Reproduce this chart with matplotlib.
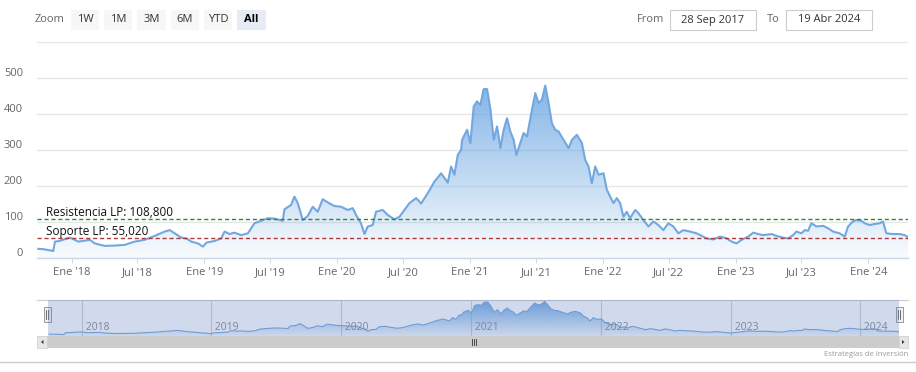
import numpy as np
import matplotlib
matplotlib.use("Agg")
import matplotlib.pyplot as plt
import matplotlib.dates as mdates
import matplotlib.transforms as mtrans
from matplotlib.patches import Rectangle, Polygon
from datetime import datetime, timedelta

plt.rcParams['font.family'] = ['Open Sans', 'DejaVu Sans']

# ---------------- data (decimal year, price) ----------------
years_dec = [
    2017.749, 2017.787, 2017.850, 2017.862, 2017.875, 2017.912, 2017.950, 2017.987,
    2018.013, 2018.050, 2018.088, 2018.138, 2018.175, 2018.251, 2018.326, 2018.401,
    2018.476, 2018.551, 2018.627, 2018.702, 2018.739, 2018.777, 2018.827, 2018.865,
    2018.902, 2018.952, 2018.990, 2019.015, 2019.078, 2019.128, 2019.153, 2019.190,
    2019.228, 2019.278, 2019.328, 2019.378, 2019.429, 2019.479, 2019.529, 2019.591,
    2019.604, 2019.654, 2019.679, 2019.704, 2019.742, 2019.779, 2019.817, 2019.855,
    2019.892, 2019.930, 2019.980, 2020.030, 2020.080, 2020.118, 2020.143, 2020.180,
    2020.206, 2020.231, 2020.268, 2020.293, 2020.343, 2020.381, 2020.431, 2020.469,
    2020.506, 2020.544, 2020.594, 2020.632, 2020.682, 2020.732, 2020.782, 2020.832,
    2020.857, 2020.882, 2020.907, 2020.932,
    2020.940, 2020.977, 2021.002, 2021.027, 2021.052, 2021.077, 2021.102, 2021.128,
    2021.153, 2021.178, 2021.203, 2021.228, 2021.253, 2021.278, 2021.303, 2021.328,
    2021.348, 2021.378, 2021.403, 2021.428, 2021.466, 2021.491, 2021.516, 2021.541,
    2021.566, 2021.591, 2021.616, 2021.641, 2021.666, 2021.704, 2021.742, 2021.767,
    2021.804, 2021.842, 2021.867, 2021.892, 2021.917, 2021.942, 2021.967, 2022.005,
    2022.030, 2022.055, 2022.080, 2022.105, 2022.130, 2022.155, 2022.180, 2022.205,
    2022.243, 2022.268, 2022.305, 2022.343, 2022.381, 2022.418, 2022.456, 2022.493,
    2022.531, 2022.569, 2022.606, 2022.656, 2022.706, 2022.744, 2022.782, 2022.832,
    2022.882, 2022.932, 2022.970, 2023.007, 2023.045, 2023.095, 2023.133, 2023.170,
    2023.208, 2023.271, 2023.308, 2023.358, 2023.396, 2023.433, 2023.458, 2023.496,
    2023.521, 2023.546, 2023.571, 2023.609, 2023.659, 2023.697, 2023.734, 2023.784,
    2023.822, 2023.847, 2023.884, 2023.909, 2023.947, 2023.972, 2024.010, 2024.047,
    2024.085, 2024.110, 2024.135, 2024.185, 2024.235, 2024.273, 2024.298,
]
prices = [
    25, 24, 20, 19, 45, 47, 52, 56,
    52, 45, 47, 50, 40, 33, 34, 36,
    45, 50, 61, 73, 77, 68, 56, 54,
    45, 40, 31, 42, 47, 54, 73, 66,
    70, 63, 68, 96, 103, 110, 109, 103,
    135, 147, 170, 152, 105, 116, 142, 128,
    163, 154, 144, 142, 133, 138, 119, 96,
    66, 87, 91, 128, 133, 119, 107, 114,
    133, 152, 166, 151, 180, 212, 235, 209,
    254, 231, 286, 300,
    328, 356, 319, 421, 435, 425, 469, 469,
    412, 328, 365, 305, 356, 388, 351, 328,
    286, 319, 347, 337, 412, 458, 430, 440,
    479, 430, 374, 356, 351, 328, 305, 328,
    342, 319, 272, 254, 207, 254, 231, 235,
    189, 170, 152, 166, 152, 114, 128, 110,
    133, 124, 105, 87, 101, 91, 77, 96,
    87, 68, 77, 73, 68, 61, 54, 51,
    59, 54, 45, 40, 50, 59, 70, 66,
    63, 66, 61, 56, 54, 63, 73, 68,
    77, 75, 96, 87, 89, 82, 73, 68,
    59, 87, 101, 105, 103, 96, 91, 94,
    96, 101, 68, 66, 66, 63, 57,
]
resistance = 108.8
support = 55.02
resistance_label = "Resistencia LP: 108,800"
support_label = "Soporte LP: 55,020"
y_ticks = [0, 100, 200, 300, 400, 500]
x_tick_dates = [datetime(y, m, 1) for y in range(2018, 2025) for m in (1, 7)
                if datetime(y, m, 1) < datetime(2024, 4, 1)]
month_names = {1: "Ene", 7: "Jul"}
nav_years = [2018, 2019, 2020, 2021, 2022, 2023, 2024]
zoom_buttons = ["1W", "1M", "3M", "6M", "YTD", "All"]
date_from = "28 Sep 2017"
date_to = "19 Abr 2024"
start_date = datetime(2017, 9, 28)
end_date = datetime(2024, 4, 19)
credits = "Estrategias de Inversión"


def dec_to_dt(d):
    y = int(np.floor(d))
    y0 = datetime(y, 1, 1)
    y1 = datetime(y + 1, 1, 1)
    return y0 + timedelta(seconds=(d - y) * (y1 - y0).total_seconds())


dates = [dec_to_dt(d) for d in years_dec]
xnum = mdates.date2num(dates)
yv = np.array(prices, dtype=float)

W, H = 916, 372
fig = plt.figure(figsize=(W / 100, H / 100), dpi=100)
fig.patch.set_facecolor("white")


def fr(x, y):
    return x / W, 1 - y / H


def rect_px(x0, y0, x1, y1, **kw):
    r = Rectangle((x0 / W, 1 - y1 / H), (x1 - x0) / W, (y1 - y0) / H,
                  transform=fig.transFigure, **kw)
    fig.add_artist(r)
    return r


LINE_C = "#72a7e0"
FILL_RGB = (0.40, 0.64, 0.89)


def gradient_fill(ax, x, y, ymin, ymax, top_alpha, bot_alpha, rgb):
    xs = np.concatenate([[x[0]], x, [x[-1]]])
    ys = np.concatenate([[ymin], y, [ymin]])
    poly = Polygon(np.column_stack([xs, ys]), closed=True, facecolor="none",
                   edgecolor="none", transform=ax.transData)
    ax.add_patch(poly)
    n = 256
    img = np.zeros((n, 2, 4))
    img[..., 0] = rgb[0]
    img[..., 1] = rgb[1]
    img[..., 2] = rgb[2]
    a = np.linspace(top_alpha, bot_alpha, n)
    img[..., 3] = a[:, None]
    x0, x1 = ax.get_xlim()
    im = ax.imshow(img, extent=[x0, x1, ymin, ymax], aspect="auto",
                   origin="upper", zorder=1, interpolation="bilinear")
    im.set_clip_path(poly)


# ---------------- main axes ----------------
L, R, T, B = 37, 908, 42, 257.8
ax = fig.add_axes([L / W, 1 - B / H, (R - L) / W, (B - T) / H])
ax.set_xlim(mdates.date2num(start_date), mdates.date2num(end_date))
ax.set_ylim(0, 600)
for s in ("top", "left", "right"):
    ax.spines[s].set_visible(False)
ax.spines["bottom"].set_color("#ccd6eb")
ax.spines["bottom"].set_linewidth(1)
ax.set_yticks([0, 100, 200, 300, 400, 500, 600])
ax.set_yticklabels([])
ax.tick_params(axis="y", length=0)
ax.yaxis.grid(True, color="#e6e6e6", linewidth=1)
ax.set_axisbelow(True)

ax.set_xticks(mdates.date2num(x_tick_dates))
ax.set_xticklabels([f"{month_names[d.month]} '{d.year % 100:02d}" for d in x_tick_dates])
ax.tick_params(axis="x", length=5 * 0.72, width=0.72, color="#ccd6eb",
               labelsize=8, labelcolor="#666666", pad=3)

gradient_fill(ax, xnum, yv, 0, 600, 1.0, 0.04, FILL_RGB)
ax.plot(xnum, yv, color=LINE_C, lw=1.5, zorder=3, solid_joinstyle="round")

ax.axhline(resistance, color="#2e8b2e", lw=1, ls=(0, (3, 2)), zorder=4)
ax.axhline(support, color="#b03a3a", lw=1, ls=(0, (3, 2)), zorder=4)
lab_tr = mtrans.offset_copy(mtrans.blended_transform_factory(ax.transAxes, ax.transData),
                            fig=fig, x=9, y=3, units="dots")
ax.text(0, resistance, resistance_label, transform=lab_tr, fontsize=8.5,
        color="#111111", va="baseline", ha="left", zorder=5)
ax.text(0, support, support_label, transform=lab_tr, fontsize=8.5,
        color="#111111", va="baseline", ha="left", zorder=5)

ylab_tr = mtrans.offset_copy(mtrans.blended_transform_factory(ax.transAxes, ax.transData),
                             fig=fig, x=-14, y=1.5, units="dots")
for v in y_ticks:
    ax.text(0, v, str(v), transform=ylab_tr, ha="right", va="baseline",
            fontsize=8, color="#666666")

# ---------------- range selector ----------------
fig.text(*fr(35, 20), "Zoom", fontsize=8, color="#666666", va="center", ha="left")
btn_x = [(71, 99), (104, 132), (137, 166), (171, 199), (204, 232), (237, 266)]
for (x0, x1), lab in zip(btn_x, zoom_buttons):
    sel = lab == "All"
    rect_px(x0, 10, x1, 30, facecolor="#e6ebf5" if sel else "#f7f7f7",
            edgecolor="none")
    fig.text(*fr((x0 + x1) / 2, 20), lab, fontsize=8, color="#000000" if sel else "#333333",
             va="center", ha="center", fontweight="bold" if sel else "normal")

fig.text(*fr(637, 20), "From", fontsize=8, color="#666666", va="center", ha="left")
rect_px(670, 10, 756, 30, facecolor="white", edgecolor="#cccccc", lw=0.8)
fig.text(*fr(713, 20), date_from, fontsize=8, color="#333333", va="center", ha="center")
fig.text(*fr(767, 20), "To", fontsize=8, color="#666666", va="center", ha="left")
rect_px(786, 10, 872, 30, facecolor="white", edgecolor="#cccccc", lw=0.8)
fig.text(*fr(829, 20), date_to, fontsize=8, color="#333333", va="center", ha="center")

# ---------------- navigator ----------------
NL, NR, NT, NB = 48, 899, 300, 336
nax = fig.add_axes([NL / W, 1 - NB / H, (NR - NL) / W, (NB - NT) / H])
nax.set_xlim(mdates.date2num(start_date), mdates.date2num(end_date))
nmin, nmax = yv.min() - 20, yv.max() + 20
nax.set_ylim(nmin, nmax)
for s in nax.spines.values():
    s.set_visible(False)
nax.set_yticks([])
nax.set_xticks([])
for yr in nav_years:
    xd = mdates.date2num(datetime(yr, 1, 1))
    nax.axvline(xd, color="#d0d0d0", lw=0.8, zorder=0.5)
    nax.text(xd, nmin, f" {yr}", fontsize=7.5, color="#888888", ha="left",
             va="bottom", zorder=5,
             transform=mtrans.offset_copy(nax.transData, fig=fig, x=1, y=3, units="dots"))
gradient_fill(nax, xnum, yv, nmin, nmax, 1.0, 0.05, FILL_RGB)
nax.plot(xnum, yv, color=LINE_C, lw=0.8, zorder=3)
# selection mask
rect_px(NL, NT, NR, NB, facecolor=(0.40, 0.52, 0.76, 0.3), edgecolor="none", zorder=6)
# outline top
fig.add_artist(plt.Line2D([37 / W, 908 / W], [1 - NT / H, 1 - NT / H],
                          transform=fig.transFigure, color="#cccccc", lw=0.8))
# handles
for hx in (NL - 1, NR):
    rect_px(hx - 3.5, 307, hx + 3.5, 322, facecolor="#f2f2f2", edgecolor="#999999", lw=0.7)
    for dx in (-1, 1):
        fig.add_artist(plt.Line2D([(hx + dx) / W] * 2, [1 - 310 / H, 1 - 319 / H],
                                  transform=fig.transFigure, color="#333333", lw=0.5))

# scrollbar
rect_px(37, 336, 908, 348, facecolor="#f2f2f2", edgecolor="none")
rect_px(NL - 1, 336, NR, 348, facecolor="#cccccc", edgecolor="none")
rect_px(37, 336, NL - 1, 348, facecolor="#e6e6e6", edgecolor="#cccccc", lw=0.5)
rect_px(NR, 336, 908, 348, facecolor="#e6e6e6", edgecolor="#cccccc", lw=0.5)
fig.add_artist(Polygon([fr(43.5, 340), fr(43.5, 344), fr(41, 342)], closed=True,
                       transform=fig.transFigure, facecolor="#333333", edgecolor="none"))
fig.add_artist(Polygon([fr(902, 340), fr(902, 344), fr(904.5, 342)], closed=True,
                       transform=fig.transFigure, facecolor="#333333", edgecolor="none"))
gx = (NL + NR) / 2
for dx in (-2, 0, 2):
    fig.add_artist(plt.Line2D([(gx + dx) / W] * 2, [1 - 339 / H, 1 - 345 / H],
                              transform=fig.transFigure, color="#333333", lw=0.6))

# credits and bottom line
fig.text(*fr(908, 355), credits, fontsize=5.5, color="#999999", ha="right", va="center")
fig.add_artist(plt.Line2D([0, 1], [1 - 362 / H, 1 - 362 / H], transform=fig.transFigure,
                          color="#cccccc", lw=1))

fig.savefig("out.png", dpi=100, facecolor="white")
